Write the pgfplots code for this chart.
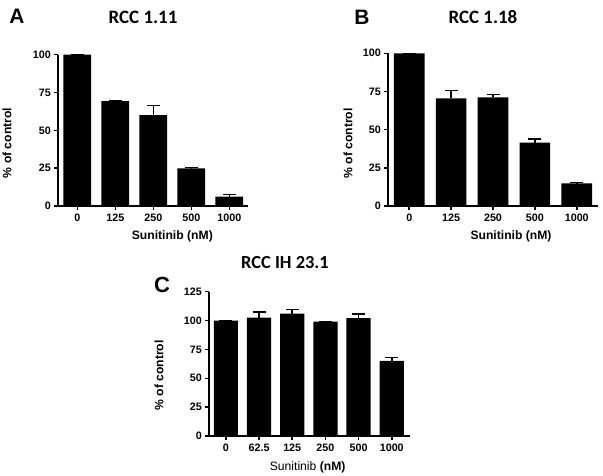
\documentclass[border=0pt]{standalone}
\usepackage{fontspec}
\setmainfont{Liberation Sans}
\newfontfamily\titlefont{Carlito}
\usepackage{pgfplots}
\pgfplotsset{compat=1.18}

\pgfplotsset{
  prism/.style={
    scale only axis,
    anchor=south west,
    axis x line*=bottom, axis y line*=left,
    axis line style={line width=1.8bp, black},
    tick align=outside,
    major tick length=4bp,
    tick style={line width=1.5bp, black},
    xtick=data,
    xmin=-0.5, ymin=0,
    ticklabel style={font=\bfseries\fontsize{10.8}{12}\selectfont},
    /pgf/number format/assume math mode=true,
    label style={font=\bfseries\fontsize{12.2}{14}\selectfont},
    title style={font=\titlefont\bfseries\fontsize{19}{22}\selectfont, anchor=center},
    clip=false,
  },
  prismbar/.style={
    ybar, bar width=0.73, fill=black, draw=none,
    error bars/.cd, y dir=plus, y explicit,
    error bar style={line width=1.5bp, black},
    error mark options={line width=1.5bp, mark size=6.5bp, rotate=90, black},
  },
}

\pgfplotstableread{
x y e
0 100 0
1 69.3 0.5
2 60.1 6.2
3 24.8 0.5
4 6.2 1.3
}\dataA
\pgfplotstableread{
x y e
0 100 0
1 70.5 5.0
2 71.2 1.7
3 41.5 2.4
4 14.8 0.5
}\dataB
\pgfplotstableread{
x y e
0 100 0
1 102.5 5.0
2 106 3.4
3 99 0
4 102 3.7
5 65 2.8
}\dataC

\begin{document}
\begin{tikzpicture}
\useasboundingbox (0,0) rectangle (603bp,476bp);

% panel A
\begin{axis}[prism,
  at={(58.3bp,270bp)}, width=190bp, height=151.3bp,
  xmax=4.5, ymax=100, ytick={0,25,50,75,100},
  xticklabels={0,125,250,500,1000},
  title={RCC 1.11},
  title style={at={(axis description cs:0.446,1)}, yshift=31.7bp},
  xlabel={Sunitinib (nM)},
  xlabel style={at={(axis description cs:0.6,-0.198)}, anchor=center},
  ylabel={\% of control},
  ylabel style={at={(axis description cs:-0.27,0.416)}, anchor=center},
]
\addplot[prismbar] table[x=x, y=y, y error=e] {\dataA};
\end{axis}

% panel B
\begin{axis}[prism,
  at={(388.3bp,270bp)}, width=209.4bp, height=152.7bp,
  xmax=4.5, ymax=100, ytick={0,25,50,75,100},
  xticklabels={0,125,250,500,1000},
  title={RCC 1.18},
  title style={at={(axis description cs:0.452,1)}, yshift=30bp},
  xlabel={Sunitinib (nM)},
  xlabel style={at={(axis description cs:0.586,-0.196)}, anchor=center},
  ylabel={\% of control},
  ylabel style={at={(axis description cs:-0.192,0.41)}, anchor=center},
]
\addplot[prismbar] table[x=x, y=y, y error=e] {\dataB};
\end{axis}

% panel C
\begin{axis}[prism,
  at={(209.3bp,40bp)}, width=200.7bp, height=144.3bp,
  xmax=5.55, ymax=125, ytick={0,25,50,75,100,125},
  xticklabels={0,62.5,125,250,500,1000},
  title={RCC IH 23.1},
  title style={at={(axis description cs:0.377,1)}, yshift=22.7bp,
    font=\titlefont\bfseries\fontsize{18.5}{21}\selectfont},
  xlabel={Sunitinib {\bfseries(nM)}},
  xlabel style={at={(axis description cs:0.49,-0.215)}, anchor=center,
    font=\mdseries\fontsize{12.2}{14}\selectfont},
  ylabel={\% of control},
  ylabel style={at={(axis description cs:-0.25,0.42)}, anchor=center},
]
\addplot[prismbar] table[x=x, y=y, y error=e] {\dataC};
\end{axis}

\node[font=\bfseries\fontsize{21}{24}\selectfont] at (17bp,460bp) {A};
\node[font=\bfseries\fontsize{21}{24}\selectfont] at (362bp,459bp) {B};
\node[font=\bfseries\fontsize{22}{25}\selectfont] at (162bp,191bp) {C};
\end{tikzpicture}
\end{document}
